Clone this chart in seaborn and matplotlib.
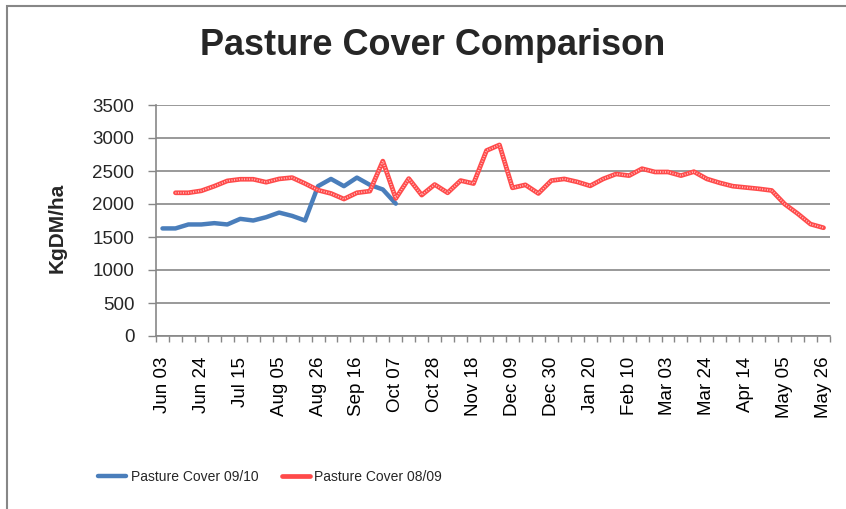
import matplotlib
matplotlib.use('Agg')
import matplotlib.pyplot as plt
import matplotlib.patches as mpatches
from matplotlib import font_manager
from matplotlib.ticker import FixedLocator
import seaborn as sns
import pandas as pd
import numpy as np

# weekly cover readings, KgDM/ha
week_labels = list(pd.date_range('2008-06-03', periods=52, freq='7D').strftime('%b %d'))
tick_labels = ['Jun 03', 'Jun 24', 'Jul 15', 'Aug 05', 'Aug 26', 'Sep 16', 'Oct 07', 'Oct 28', 'Nov 18',
               'Dec 09', 'Dec 30', 'Jan 20', 'Feb 10', 'Mar 03', 'Mar 24', 'Apr 14', 'May 05', 'May 26']

cover_0910_weeks = list(range(0, 19))
cover_0910 = [1630, 1630, 1690, 1690, 1710, 1690, 1775, 1750, 1800, 1870, 1820, 1750,
              2270, 2380, 2270, 2400, 2290, 2220, 2005]

cover_0809_weeks = list(range(1, 52))
cover_0809 = [2170, 2170, 2200, 2270, 2350, 2375, 2375, 2330, 2380, 2400, 2310, 2210,
              2160, 2075, 2170, 2195, 2650, 2085, 2385, 2135, 2295, 2170, 2355, 2310,
              2810, 2895, 2245, 2290, 2160, 2355, 2380, 2335, 2275, 2380, 2455, 2430,
              2535, 2485, 2485, 2430, 2490, 2380, 2320, 2270, 2250, 2230, 2205, 2000,
              1855, 1695, 1640]

df_a = pd.DataFrame({'week': cover_0910_weeks, 'cover': cover_0910})
df_b = pd.DataFrame({'week': cover_0809_weeks, 'cover': cover_0809})

sns.set_style('white')
plt.rcParams['font.family'] = ['Liberation Sans', 'DejaVu Sans']
grey = '#878787'

fig = plt.figure(figsize=(8.46, 5.09), dpi=100)
ax = fig.add_axes([156/846, 1-336/509, 674/846, 231/509])

sns.lineplot(data=df_a, x='week', y='cover', color='#4A7EBB', lw=3.2, ax=ax,
             label='Pasture Cover 09/10', solid_capstyle='round')
sns.lineplot(data=df_b, x='week', y='cover', color='#FF4A4A', lw=3.4, ax=ax,
             label='Pasture Cover 08/09', solid_capstyle='round')
# checker texture on the red series
sns.lineplot(data=df_b, x='week', y='cover', color='#FFC4C4', lw=1.3, ax=ax,
             linestyle=(0, (0.5, 0.9)), legend=False)

ax.set_xlim(-0.5, 51.5)
ax.set_ylim(0, 3500)
ax.set_yticks(np.arange(0, 3501, 500))
ax.set_xticks(np.arange(0, 52, 3))
ax.set_xticklabels(tick_labels, rotation=90)
ax.xaxis.set_minor_locator(FixedLocator(np.arange(-0.5, 52, 1)))
ax.tick_params(axis='x', which='major', length=0, pad=15, labelsize=13.5, colors='black')
ax.tick_params(axis='x', which='minor', length=4.5, width=1, color=grey, direction='out', bottom=True)
ax.tick_params(axis='y', length=5.5, width=1, color=grey, direction='out', left=True, pad=10,
               labelsize=13.5)
ax.grid(axis='y', color=grey, lw=1.2)
ax.grid(axis='x', visible=False)
for side in ['top', 'right']:
    ax.spines[side].set_visible(False)
for side in ['left', 'bottom']:
    ax.spines[side].set_color(grey)
    ax.spines[side].set_linewidth(1.2)

ax.set_xlabel('')
ax.set_ylabel('KgDM/ha', fontsize=15, fontweight='bold')
ax.yaxis.set_label_coords(-0.133, 0.47)

fig.text(0.511, 1-55/509, 'Pasture Cover Comparison', ha='center', va='baseline',
         fontsize=26, fontweight='bold')

ax.get_legend().remove()
fig.legend(*ax.get_legend_handles_labels(), loc='center', bbox_to_anchor=(270/846, 1-477/509),
           ncol=2, frameon=False, prop={'size': 10},
           handlelength=2.0, handletextpad=0.35, columnspacing=1.7)

fig.patches.append(mpatches.Rectangle((7/846, -0.5), 2, 1.5 - 5.5/509, fill=False,
                                      edgecolor=grey, lw=1.5, transform=fig.transFigure))

fig.savefig('out.png', dpi=100)
